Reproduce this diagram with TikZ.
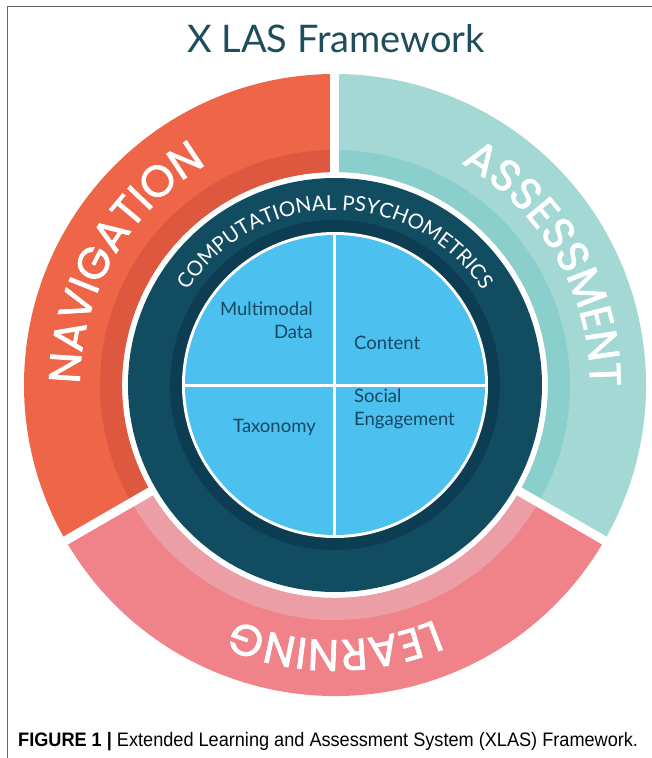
\documentclass[tikz,border=0pt]{standalone}
\usepackage{fontspec}
\usepackage{tikz}
\usetikzlibrary{decorations.text}

\newfontfamily\titlefont{Lato}
\newfontfamily\ringfont[FakeBold=1.6]{Poppins}
\newfontfamily\capfont[FakeStretch=0.93]{Liberation Sans}

\definecolor{navorange}{HTML}{EE6548}
\definecolor{navband}{HTML}{DE5840}
\definecolor{assessteal}{HTML}{A4D8D5}
\definecolor{assessband}{HTML}{8BCFCC}
\definecolor{learnpink}{HTML}{F08289}
\definecolor{learnband}{HTML}{EC9EA6}
\definecolor{psychring}{HTML}{114C61}
\definecolor{psychband}{HTML}{0C3D52}
\definecolor{quadblue}{HTML}{4CC0EE}
\definecolor{quadtext}{HTML}{164864}
\definecolor{titleteal}{HTML}{1E4E5C}
\definecolor{framegray}{HTML}{666666}

\begin{document}
\begin{tikzpicture}
[x=1pt, y=1pt]
\tikzset{
	ringlabel/.style = {decorate, decoration={text along path, text align=center, text color=white,
		text={|\ringfont\fontsize{44}{44}\selectfont|#1}}},
	psychlabel/.style = {decorate, decoration={text along path, text align=center, text color=white,
		text={|\titlefont\fontsize{20.5}{20.5}\selectfont|#1}}},
	quadlabel/.style = {inner sep = 0, text = quadtext, font = \titlefont\fontsize{18.5}{23}\selectfont}
}
\useasboundingbox (-335,-373) rectangle (317,385);

\draw[framegray, line width = 1.3pt] (-327.7,-373) -- (-327.7,378.5) -- (317,378.5);

\node (title) [anchor = base, inner sep = 0, text = titleteal, font = \titlefont\fontsize{38}{38}\selectfont] at (1,332) {X LAS Framework};

% outer ring: navigation, learning, assessment
\foreach \a/\col/\band in {90/navorange/navband, 210/learnpink/learnband, 330/assessteal/assessband}{
	\fill[\col] (\a:311pt) arc[start angle = \a, end angle = \a+120, radius = 311pt]
		-- (\a+120:213pt) arc[start angle = \a+120, end angle = \a, radius = 213pt] -- cycle;
	\fill[\band] (\a:235pt) arc[start angle = \a, end angle = \a+120, radius = 235pt]
		-- (\a+120:213pt) arc[start angle = \a+120, end angle = \a, radius = 213pt] -- cycle;
}
\foreach \a in {90,210,330}
	\draw[white, line width = 9pt] (\a:205pt) -- (\a:320pt);

% computational psychometrics ring
\fill[psychring] (0,0) circle[radius = 207pt];
\fill[psychband] (0,0) circle[radius = 165pt];
\fill[white] (0,0) circle[radius = 153pt];
\fill[quadblue] (0,0) circle[radius = 150pt];
\draw[white, line width = 3pt] (0,150) -- (0,-150) (-150,0) -- (150,0);

\path[ringlabel = NAVIGATION] (210:255pt) arc[start angle = 210, end angle = 90, radius = 255pt];
\path[ringlabel = ASSESSMENT] (90:255pt) arc[start angle = 90, end angle = -30, radius = 255pt];
\path[ringlabel = LEARNING] (330:255pt) arc[start angle = 330, end angle = 210, radius = 255pt];
\path[psychlabel = COMPUTATIONAL PSYCHOMETRICS] (170:175pt) arc[start angle = 170, end angle = 10, radius = 175pt];

\node (multimodal) [quadlabel, anchor = base east, align = right] at (-22,47) {Multimodal\\Data};
\node (content) [quadlabel, anchor = base west] at (19,36) {Content};
\node (taxonomy) [quadlabel, anchor = base east] at (-19,-47) {Taxonomy};
\node (social) [quadlabel, anchor = base west, align = left] at (19,-40) {Social\\Engagement};

\node (caption) [anchor = base west, inner sep = 0, font = \capfont\fontsize{19.5}{19.5}\selectfont] at (-317,-361)
	{\textbf{FIGURE 1 |} Extended Learning and Assessment System (XLAS) Framework.};

\end{tikzpicture}
\end{document}
